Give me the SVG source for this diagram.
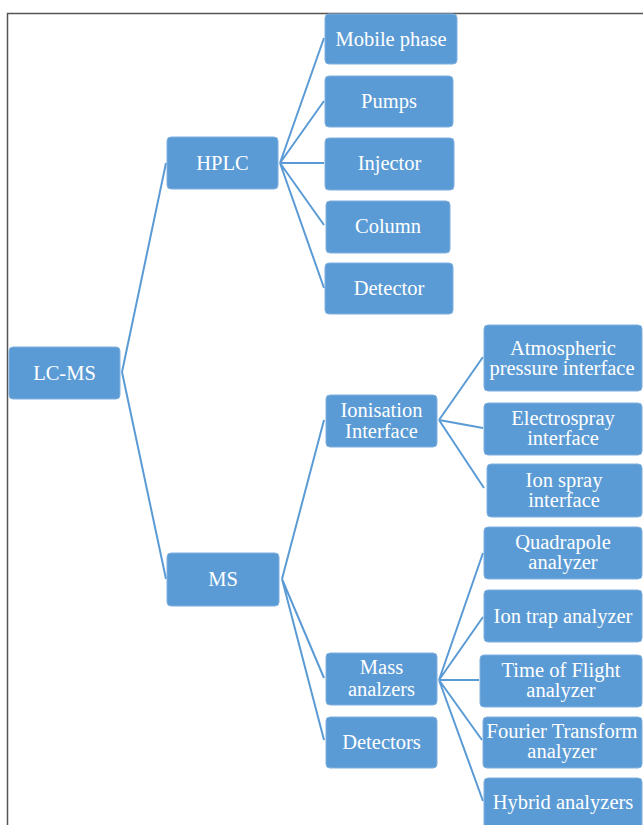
<svg xmlns="http://www.w3.org/2000/svg" width="643" height="825" viewBox="0 0 643 825">
<style>
.box{fill:#5B9BD5;stroke:#7FB0DE;stroke-width:1}
.t{fill:#ffffff;font-family:"Liberation Serif","Times New Roman",serif;font-size:20.5px;text-anchor:middle;dominant-baseline:central}
.c{stroke:#5B9BD5;stroke-width:2;fill:none}
</style>
<rect x="0" y="0" width="643" height="825" fill="#ffffff"/>
<g id="frame"><path d="M7.5 825 V13.5 H643" stroke="#555" stroke-width="1.5" fill="none"/></g>
<g id="connectors">
<path class="c" d="M122 372 L166 163 M122 372 L166 579"/>
<path class="c" d="M280 163 L324 38 M280 163 L324 101 M280 163 L324 163 M280 163 L324 225 M280 163 L324 288"/>
<path class="c" d="M282 579 L324 420 M282 579 L324 678 M282 579 L324 740"/>
<path class="c" d="M439 420 L483 357 M439 420 L483 428 M439 420 L484 488"/>
<path class="c" d="M439 680 L483 553 M439 680 L483 617 M439 680 L479 680 M439 680 L482 740 M439 680 L483 801"/>
</g>
<g id="lcms"><rect class="box" x="9" y="347" width="111" height="52" rx="4"/><text class="t" x="64.5" y="373">LC-MS</text></g>
<g id="hplc"><rect class="box" x="167" y="137" width="111" height="52" rx="4"/><text class="t" x="222.5" y="163">HPLC</text></g>
<g id="ms"><rect class="box" x="167" y="553" width="112" height="53" rx="4"/><text class="t" x="223" y="579">MS</text></g>
<g id="mobile"><rect class="box" x="325" y="14" width="132" height="50" rx="4"/><text class="t" x="391" y="39">Mobile phase</text></g>
<g id="pumps"><rect class="box" x="325" y="76" width="128" height="51" rx="4"/><text class="t" x="389" y="101">Pumps</text></g>
<g id="injector"><rect class="box" x="325" y="138" width="129" height="52" rx="4"/><text class="t" x="389.5" y="163">Injector</text></g>
<g id="column"><rect class="box" x="326" y="201" width="124" height="52" rx="4"/><text class="t" x="388" y="226">Column</text></g>
<g id="detector"><rect class="box" x="325" y="263" width="128" height="51" rx="4"/><text class="t" x="389" y="288">Detector</text></g>
<g id="ionisation"><rect class="box" x="326" y="395" width="111" height="52" rx="4"/><text class="t" x="381.5" y="410">Ionisation</text><text class="t" x="381.5" y="431">Interface</text></g>
<g id="mass"><rect class="box" x="326" y="653" width="111" height="52" rx="4"/><text class="t" x="381.5" y="667">Mass</text><text class="t" x="381.5" y="689">analzers</text></g>
<g id="detectors"><rect class="box" x="326" y="717" width="111" height="51" rx="4"/><text class="t" x="381.5" y="742">Detectors</text></g>
<g id="atmospheric"><rect class="box" x="484" y="325" width="158" height="66" rx="4"/><text class="t" x="563" y="348">Atmospheric</text><text class="t" x="562" y="368">pressure interface</text></g>
<g id="electrospray"><rect class="box" x="484" y="403" width="158" height="52" rx="4"/><text class="t" x="563" y="418">Electrospray</text><text class="t" x="563" y="438">interface</text></g>
<g id="ionspray"><rect class="box" x="487" y="464" width="155" height="53" rx="4"/><text class="t" x="564" y="480">Ion spray</text><text class="t" x="564" y="500">interface</text></g>
<g id="quadrapole"><rect class="box" x="484" y="527" width="158" height="52" rx="4"/><text class="t" x="563" y="542">Quadrapole</text><text class="t" x="563" y="562">analyzer</text></g>
<g id="iontrap"><rect class="box" x="484" y="590" width="158" height="52" rx="4"/><text class="t" x="563" y="616">Ion trap analyzer</text></g>
<g id="tof"><rect class="box" x="480" y="655" width="162" height="52" rx="4"/><text class="t" x="561" y="670">Time of Flight</text><text class="t" x="561" y="690">analyzer</text></g>
<g id="fourier"><rect class="box" x="483" y="717" width="159" height="51" rx="4"/><text class="t" x="562" y="731">Fourier Transform</text><text class="t" x="562" y="751">analyzer</text></g>
<g id="hybrid"><rect class="box" x="484" y="778" width="158" height="52" rx="4"/><text class="t" x="563" y="802">Hybrid analyzers</text></g>
</svg>
